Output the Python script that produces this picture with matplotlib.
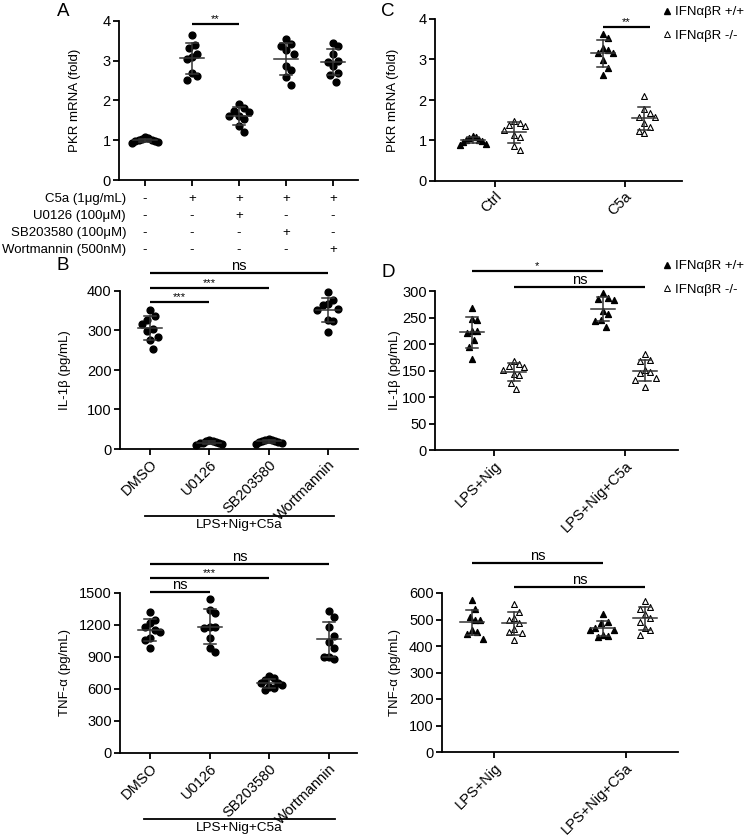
import numpy as np
import matplotlib
matplotlib.use("Agg")
import matplotlib.pyplot as plt
from matplotlib import transforms
from matplotlib.lines import Line2D

plt.rcParams['font.family'] = ['Liberation Sans', 'DejaVu Sans']

W, H = 745, 838

# ---- data ----
# Panel A: PKR mRNA (fold)
a_vals = [
    [1.02, 0.98, 1.05, 0.96, 1.00, 1.07, 0.94, 1.01, 0.97],
    [3.65, 3.40, 3.33, 3.18, 3.09, 3.05, 2.68, 2.62, 2.52],
    [1.92, 1.81, 1.74, 1.70, 1.62, 1.60, 1.53, 1.35, 1.20],
    [3.54, 3.41, 3.38, 3.26, 3.17, 2.87, 2.77, 2.59, 2.39],
    [3.44, 3.36, 3.18, 3.00, 2.97, 2.87, 2.69, 2.64, 2.47],
]
a_rows = ['C5a (1μg/mL)', 'U0126 (100μM)', 'SB203580 (100μM)', 'Wortmannin (500nM)']
a_signs = [
    ['-', '+', '+', '+', '+'],
    ['-', '-', '+', '-', '-'],
    ['-', '-', '-', '+', '-'],
    ['-', '-', '-', '-', '+'],
]

# Panel B: inhibitors
b_labels = ['DMSO', 'U0126', 'SB203580', 'Wortmannin']
b_il1b = [
    [351, 336, 326, 316, 305, 299, 284, 277, 254],
    [24, 21, 19, 17, 16, 15, 14, 12, 10],
    [26, 24, 22, 20, 19, 18, 17, 15, 13],
    [397, 376, 368, 364, 355, 351, 326, 324, 297],
]
b_tnf = [
    [1318, 1243, 1218, 1180, 1149, 1139, 1076, 1061, 982],
    [1443, 1343, 1312, 1180, 1180, 1170, 1076, 982, 951],
    [725, 700, 684, 659, 653, 637, 621, 606, 590],
    [1327, 1274, 1180, 1101, 1045, 982, 904, 897, 879],
]

# Panel C: PKR mRNA in IFNabR +/+ vs -/-
c_labels = ['Ctrl', 'C5a']
c_wt = [
    [1.12, 1.08, 1.05, 1.02, 1.00, 0.98, 0.97, 0.92, 0.88],
    [3.62, 3.52, 3.28, 3.23, 3.17, 3.15, 2.99, 2.78, 2.61],
]
c_ko = [
    [1.49, 1.42, 1.38, 1.36, 1.26, 1.14, 1.09, 0.87, 0.77],
    [2.11, 1.79, 1.67, 1.59, 1.57, 1.44, 1.34, 1.24, 1.18],
]

# Panel D
d_labels = ['LPS+Nig', 'LPS+Nig+C5a']
d_il1b_wt = [
    [267, 247, 245, 225, 225, 220, 207, 195, 171],
    [297, 287, 285, 283, 262, 256, 245, 243, 233],
]
d_il1b_ko = [
    [168, 163, 159, 157, 151, 144, 141, 126, 116],
    [182, 169, 168, 151, 147, 146, 135, 133, 119],
]
d_tnf_wt = [
    [575, 540, 510, 497, 497, 459, 453, 444, 428],
    [522, 490, 487, 469, 462, 459, 441, 437, 434],
]
d_tnf_ko = [
    [560, 528, 507, 497, 485, 466, 453, 449, 424],
    [569, 547, 541, 520, 507, 491, 468, 459, 443],
]

legend_labels = ['IFNαβR +/+', 'IFNαβR -/-']

fig = plt.figure(figsize=(W / 100, H / 100), dpi=100)


def add_ax(x0, x1, ytop, ybot, xlim, ymax, yticks, ylabel, label_x):
    # rectangle given in pixels of the output picture
    ax = fig.add_axes([x0 / W, 1 - ybot / H, (x1 - x0) / W, (ybot - ytop) / H])
    ax.set_xlim(*xlim)
    ax.set_ylim(0, ymax)
    ax.set_yticks(yticks)
    for s in ['top', 'right']:
        ax.spines[s].set_visible(False)
    for s in ['left', 'bottom']:
        ax.spines[s].set_linewidth(1.3)
    ax.tick_params(direction='out', length=4, width=1.3, labelsize=10.5, pad=2)
    ax.set_ylabel(ylabel, fontsize=9.5, va='center')
    ax.yaxis.set_label_coords((label_x - x0) / (x1 - x0), 0.5)
    ax._px = ((x1 - x0) / (xlim[1] - xlim[0]), (ybot - ytop) / ymax)
    return ax


def swarm(ax, vals, dx=5.0, dy=10.0, step=2.6, maxw=13.0):
    # spread points sideways when they sit close in y (elliptic collision, in pixels)
    pxx, pxy = ax._px
    ys = np.asarray(vals) * pxy
    offs = np.zeros(len(ys))
    placed = []
    for i in np.argsort(-ys):
        k = 0
        while True:
            cand = ((k + 1) // 2) * step * (1 if k % 2 else -1)
            if all(((cand - ox) / dx) ** 2 + ((ys[i] - oy) / dy) ** 2 >= 1 for ox, oy in placed):
                break
            k += 1
        offs[i] = cand
        placed.append((cand, ys[i]))
    widest = np.abs(offs).max()
    if widest > maxw:
        offs = offs * maxw / widest
    return offs / pxx


def group(ax, x, vals, marker='o', filled=True, ms=24):
    vals = np.asarray(vals, dtype=float)
    xs = x + swarm(ax, vals)
    if filled:
        ax.scatter(xs, vals, s=ms, marker=marker, color='black', zorder=3, clip_on=False)
    else:
        ax.scatter(xs, vals, s=ms, marker=marker, facecolor='white', edgecolor='black',
                   linewidths=0.8, zorder=3, clip_on=False)
    m, sd = vals.mean(), vals.std(ddof=1)
    pxx = ax._px[0]
    hw, hc = 12 / pxx, 6 / pxx
    ax.plot([x - hw, x + hw], [m, m], color='#333333', lw=1.1, zorder=4)
    ax.plot([x, x], [m - sd, m + sd], color='#333333', lw=1.1, zorder=4)
    for y in (m - sd, m + sd):
        ax.plot([x - hc, x + hc], [y, y], color='#333333', lw=1.1, zorder=4)


def sig(ax, x1, x2, y, text, fs=10.5, lw=1.6):
    ax.plot([x1, x2], [y, y], color='black', lw=lw, clip_on=False, solid_capstyle='butt')
    ax.text((x1 + x2) / 2, y, text, ha='center', va='bottom', fontsize=fs, clip_on=False)


def under_line(ax, x1, x2, ypix, text):
    tr = transforms.blended_transform_factory(ax.transData, fig.transFigure)
    ax.plot([x1, x2], [1 - ypix / H] * 2, color='black', lw=1.3, transform=tr, clip_on=False)
    ax.text((x1 + x2) / 2, 1 - (ypix + 3) / H, text, transform=tr, ha='center', va='top',
            fontsize=9.7)


def legend(x, y):
    handles = [Line2D([], [], marker='^', ls='none', color='black', ms=4),
               Line2D([], [], marker='^', ls='none', mfc='white', mec='black', mew=0.7, ms=4)]
    fig.legend(handles, legend_labels, loc='upper left', bbox_to_anchor=(x / W, 1 - y / H),
               frameon=False, fontsize=9.5, handlelength=0.5, handletextpad=0.35,
               labelspacing=0.85, borderaxespad=0, borderpad=0)


# ---- Panel A ----
axA = add_ax(119, 358, 21, 180, (-0.553, 4.53), 4, [0, 1, 2, 3, 4], 'PKR mRNA (fold)', 75)
axA.set_xticks(range(5))
axA.set_xticklabels([])
for i, v in enumerate(a_vals):
    group(axA, i, v)
sig(axA, 1, 2, 3.92, '**', fs=8)
trA = transforms.blended_transform_factory(axA.transData, fig.transFigure)
for r, (name, signs) in enumerate(zip(a_rows, a_signs)):
    yy = 1 - (199 + 17 * r) / H
    fig.text(126 / W, yy, name, ha='right', va='center', fontsize=9.5)
    for i, s in enumerate(signs):
        axA.text(i, yy, s, transform=trA, ha='center', va='center', fontsize=9.5)
fig.text(63 / W, 1 - 12 / H, 'A', fontsize=13.5, ha='center', va='center')

# ---- Panel B IL-1b ----
axB = add_ax(120, 358, 291, 449, (-0.506, 3.51), 400, [0, 100, 200, 300, 400],
             'IL-1β (pg/mL)', 65)
axB.set_xticks(range(4))
axB.set_xticklabels(b_labels, rotation=45, ha='right', rotation_mode='anchor')
for i, v in enumerate(b_il1b):
    group(axB, i, v)
sig(axB, 0, 3, 445, 'ns')
sig(axB, 0, 2, 408, '***', fs=8)
sig(axB, 0, 1, 372, '***', fs=8)
under_line(axB, -0.08, 3.1, 516, 'LPS+Nig+C5a')
fig.text(63 / W, 1 - 265 / H, 'B', fontsize=13.5, ha='center', va='center')

# ---- Panel B TNF ----
axT = add_ax(120, 357, 593, 753, (-0.5, 3.47), 1500, [0, 300, 600, 900, 1200, 1500],
             'TNF-α (pg/mL)', 65)
axT.set_xticks(range(4))
axT.set_xticklabels(b_labels, rotation=45, ha='right', rotation_mode='anchor')
for i, v in enumerate(b_tnf):
    group(axT, i, v)
sig(axT, 0, 3, 1772, 'ns')
sig(axT, 0, 2, 1641, '***', fs=8)
sig(axT, 0, 1, 1509, 'ns')
under_line(axT, -0.1, 3.1, 819, 'LPS+Nig+C5a')

# ---- Panel C ----
off_wt, off_ko = -0.17, 0.15
axC = add_ax(435, 682, 19, 181, (-0.46, 1.44), 4, [0, 1, 2, 3, 4], 'PKR mRNA (fold)', 393)
axC.set_xticks(range(2))
axC.set_xticklabels(c_labels, rotation=45, ha='right', rotation_mode='anchor')
for i in range(2):
    group(axC, i + off_wt, c_wt[i], marker='^', ms=18)
    group(axC, i + off_ko, c_ko[i], marker='^', filled=False, ms=18)
sig(axC, 1 + off_wt, 1 + off_ko + 0.04, 3.81, '**', fs=8)
fig.text(388 / W, 1 - 12 / H, 'C', fontsize=13.5, ha='center', va='center')
legend(664, 6)

# ---- Panel D IL-1b ----
axD = add_ax(435, 678, 291, 450, (-0.45, 1.40), 300, [0, 50, 100, 150, 200, 250, 300],
             'IL-1β (pg/mL)', 395)
axD.set_xticks(range(2))
axD.set_xticklabels(d_labels, rotation=45, ha='right', rotation_mode='anchor')
for i in range(2):
    group(axD, i + off_wt, d_il1b_wt[i], marker='^', ms=18)
    group(axD, i + off_ko, d_il1b_ko[i], marker='^', filled=False, ms=18)
sig(axD, off_wt, 1 + off_wt, 338, '*', fs=8)
sig(axD, off_ko, 1 + off_ko, 307, 'ns')
fig.text(388 / W, 1 - 272 / H, 'D', fontsize=13.5, ha='center', va='center')
legend(664, 260)

# ---- Panel D TNF ----
axE = add_ax(442, 678, 593, 752, (-0.40, 1.40), 600, [0, 100, 200, 300, 400, 500, 600],
             'TNF-α (pg/mL)', 395)
axE.set_xticks(range(2))
axE.set_xticklabels(d_labels, rotation=45, ha='right', rotation_mode='anchor')
for i in range(2):
    group(axE, i + off_wt, d_tnf_wt[i], marker='^', ms=18)
    group(axE, i + off_ko, d_tnf_ko[i], marker='^', filled=False, ms=18)
sig(axE, off_wt, 1 + off_wt, 713, 'ns')
sig(axE, off_ko, 1 + off_ko, 623, 'ns')

fig.savefig('out.png', dpi=100)
